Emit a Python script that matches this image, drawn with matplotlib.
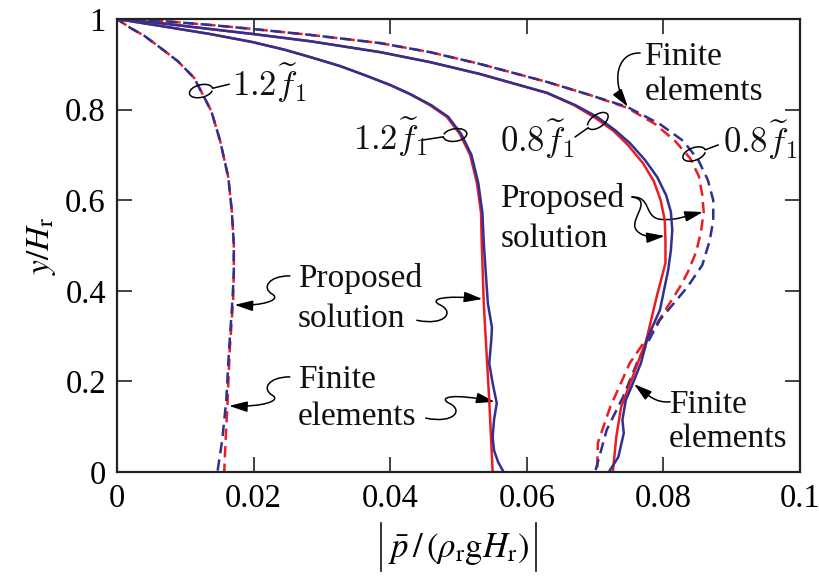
import numpy as np
import matplotlib.pyplot as plt
from matplotlib.path import Path
from matplotlib.patches import FancyArrowPatch
from matplotlib.lines import Line2D
from matplotlib.transforms import IdentityTransform

plt.rcParams['font.family'] = ['Liberation Serif', 'DejaVu Serif']
plt.rcParams['mathtext.fontset'] = 'stix'

RED = '#ed1c24'   # proposed solution
BLUE = '#2e3192'  # finite elements

# dashed set, 1.2 f1
y_d12 = [1.000, 0.980, 0.963, 0.936, 0.907, 0.870, 0.797, 0.731, 0.650, 0.577, 0.504,
         0.440, 0.379, 0.269, 0.159, 0.070, 0.000]
p_d12_prop = [0.0, 0.0020, 0.0040, 0.0064, 0.0089, 0.0113, 0.0138, 0.0151, 0.0163, 0.0168,
              0.0171, 0.0171, 0.0170, 0.0165, 0.0162, 0.0159, 0.0157]
p_d12_fe = [0.0, 0.0020, 0.0040, 0.0064, 0.0089, 0.0113, 0.0138, 0.0151, 0.0163, 0.0168,
            0.0171, 0.0171, 0.0169, 0.0164, 0.0160, 0.0154, 0.0147]

# solid set, 1.2 f1
y_s12_prop = [1.000, 0.985, 0.967, 0.949, 0.932, 0.916, 0.896, 0.876, 0.854, 0.834, 0.810,
              0.784, 0.746, 0.700, 0.638, 0.572, 0.506, 0.372, 0.291, 0.159, 0.000]
p_s12_prop = [0.0, 0.0063, 0.0136, 0.0199, 0.0246, 0.0283, 0.0327, 0.0363, 0.0400, 0.0429,
              0.0458, 0.0483, 0.0502, 0.0517, 0.0527, 0.0533, 0.0534, 0.0537, 0.0540, 0.0545,
              0.0550]
y_s12_fe = [1.000, 0.985, 0.967, 0.949, 0.932, 0.916, 0.896, 0.876, 0.854, 0.834, 0.810,
            0.784, 0.746, 0.700, 0.638, 0.572, 0.506, 0.438, 0.372, 0.319, 0.291, 0.240,
            0.196, 0.152, 0.115, 0.077, 0.048, 0.022, 0.000]
p_s12_fe = [0.0, 0.0063, 0.0136, 0.0199, 0.0246, 0.0283, 0.0327, 0.0363, 0.0401, 0.0430,
            0.0460, 0.0485, 0.0504, 0.0519, 0.0529, 0.0535, 0.0537, 0.0540, 0.0543, 0.0549,
            0.0548, 0.0545, 0.0550, 0.0556, 0.0552, 0.0550, 0.0552, 0.0558, 0.0566]

# solid set, 0.8 f1
y_s08_prop = [1.000, 0.991, 0.978, 0.967, 0.951, 0.927, 0.905, 0.879, 0.854, 0.837, 0.810,
              0.781, 0.753, 0.722, 0.682, 0.642, 0.600, 0.556, 0.512, 0.461, 0.386, 0.291,
              0.218, 0.143, 0.077, 0.000]
p_s08_prop = [0.0, 0.0063, 0.0136, 0.0199, 0.0283, 0.0385, 0.0458, 0.0530, 0.0589, 0.0629,
              0.0669, 0.0701, 0.0727, 0.0748, 0.0770, 0.0786, 0.0796, 0.0802, 0.0803, 0.0803,
              0.0790, 0.0775, 0.0757, 0.0738, 0.0731, 0.0726]
y_s08_fe = [1.000, 0.991, 0.978, 0.967, 0.951, 0.927, 0.905, 0.879, 0.854, 0.837, 0.810,
            0.784, 0.755, 0.726, 0.689, 0.651, 0.611, 0.574, 0.534, 0.490, 0.446, 0.358,
            0.297, 0.240, 0.187, 0.159, 0.115, 0.086, 0.033, 0.000]
p_s08_fe = [0.0, 0.0063, 0.0136, 0.0199, 0.0283, 0.0385, 0.0458, 0.0531, 0.0590, 0.0630,
            0.0671, 0.0703, 0.0729, 0.0751, 0.0773, 0.0791, 0.0804, 0.0811, 0.0813, 0.0811,
            0.0807, 0.0795, 0.0777, 0.0767, 0.0753, 0.0745, 0.0740, 0.0742, 0.0734, 0.0720]

# dashed set, 0.8 f1
y_d08_prop = [1.000, 0.996, 0.987, 0.978, 0.965, 0.947, 0.927, 0.901, 0.861, 0.832, 0.804,
              0.768, 0.731, 0.693, 0.653, 0.611, 0.574, 0.530, 0.486, 0.442, 0.408, 0.329,
              0.241, 0.143, 0.064, 0.000]
p_d08_prop = [0.0, 0.0063, 0.0136, 0.0199, 0.0283, 0.0385, 0.0458, 0.0531, 0.0630, 0.0693,
              0.0747, 0.0788, 0.0817, 0.0839, 0.0852, 0.0857, 0.0859, 0.0855, 0.0848, 0.0836,
              0.0824, 0.0791, 0.0751, 0.0722, 0.0704, 0.0703]
y_d08_fe = [1.000, 0.996, 0.987, 0.978, 0.965, 0.947, 0.927, 0.901, 0.861, 0.832, 0.806,
            0.768, 0.731, 0.689, 0.645, 0.600, 0.556, 0.512, 0.457, 0.408, 0.336, 0.247,
            0.166, 0.093, 0.000]
p_d08_fe = [0.0, 0.0063, 0.0136, 0.0199, 0.0283, 0.0385, 0.0458, 0.0531, 0.0630, 0.0693,
            0.0747, 0.0795, 0.0829, 0.0851, 0.0865, 0.0873, 0.0873, 0.0868, 0.0857, 0.0835,
            0.0795, 0.0763, 0.0741, 0.0717, 0.0700]

xticks = [0, 0.02, 0.04, 0.06, 0.08, 0.1]
xtick_labels = ['0', '0.02', '0.04', '0.06', '0.08', '0.1']
yticks = [0, 0.2, 0.4, 0.6, 0.8, 1]
ytick_labels = ['0', '0.2', '0.4', '0.6', '0.8', '1']

fig = plt.figure(figsize=(8.2, 5.86), dpi=100)
ax = fig.add_axes([0.1427, 0.1945, 0.8329, 0.7730])
ax.set_xlim(0, 0.1)
ax.set_ylim(0, 1)

LW = 1.8
dash_r = (0, (4.5, 2.5))
dash_b = (1.5, (4.5, 2.5))

ax.plot(p_d12_prop, y_d12, color=RED, lw=LW, ls=dash_r)
ax.plot(p_d12_fe, y_d12, color=BLUE, lw=LW, ls=dash_b)
ax.plot(p_d08_prop, y_d08_prop, color=RED, lw=LW, ls=dash_r)
ax.plot(p_d08_fe, y_d08_fe, color=BLUE, lw=LW, ls=dash_b)
ax.plot(p_s12_prop, y_s12_prop, color=RED, lw=LW)
ax.plot(p_s12_fe, y_s12_fe, color=BLUE, lw=LW)
ax.plot(p_s08_prop, y_s08_prop, color=RED, lw=LW)
ax.plot(p_s08_fe, y_s08_fe, color=BLUE, lw=LW)

ax.set_xticks(xticks, xtick_labels)
ax.set_yticks(yticks, ytick_labels)
ax.tick_params(direction='in', length=11, width=1.2, top=True, right=True,
               labelsize=23.5, pad=8, color='#222222')
for sp in ax.spines.values():
    sp.set_linewidth(1.6)
    sp.set_color('#222222')

ax.set_xlabel(r'$\bar{p}\,/\,(\rho_\mathrm{r}\mathrm{g}H_\mathrm{r})$', fontsize=25)
ax.set_ylabel(r'$y/H_\mathrm{r}$', fontsize=24)
ax.xaxis.set_label_coords(0.5, -0.13)
ax.yaxis.set_label_coords(-0.086, 0.5)

TXT = dict(fontsize=24, va='baseline', color='#111111')
ax.text(0.0772, 0.898, 'Finite', **TXT)
ax.text(0.0772, 0.821, 'elements', **TXT)
ax.text(0.0561, 0.585, 'Proposed', **TXT)
ax.text(0.0561, 0.497, 'solution', **TXT)
ax.text(0.0265, 0.408, 'Proposed', **TXT)
ax.text(0.0265, 0.320, 'solution', **TXT)
ax.text(0.0265, 0.185, 'Finite', **TXT)
ax.text(0.0265, 0.104, 'elements', **TXT)
ax.text(0.0808, 0.130, 'Finite', **TXT)
ax.text(0.0808, 0.055, 'elements', **TXT)

LBL = dict(fontsize=25, va='baseline', math_fontfamily='cm', color='#111111')
ax.text(0.0168, 0.830, r'$1.2\widetilde{f}_1$', **LBL)
ax.text(0.0346, 0.711, r'$1.2\widetilde{f}_1$', **LBL)
ax.text(0.0561, 0.706, r'$0.8\widetilde{f}_1$', **LBL)
ax.text(0.0887, 0.704, r'$0.8\widetilde{f}_1$', **LBL)


def lasso(start, centre, w=17, h=9):
    # leader line ending in a small loop around a curve
    tr = ax.transData
    s = tr.transform(start)
    c = tr.transform(centre)
    ang = np.arctan2(s[1] - c[1], s[0] - c[0])
    k = fig.dpi / 72
    t = np.linspace(0, 1.85 * np.pi, 80)
    ex = w / 2 * k * np.cos(t)
    ey = h / 2 * k * np.sin(t)
    rx = c[0] + ex * np.cos(ang) - ey * np.sin(ang)
    ry = c[1] + ex * np.sin(ang) + ey * np.cos(ang)
    pts = tr.inverted().transform(np.vstack([s, np.column_stack([rx, ry])]))
    ax.plot(pts[:, 0], pts[:, 1], color='k', lw=1.1)


lasso((0.0164, 0.856), (0.0123, 0.841))
lasso((0.0448, 0.733), (0.0495, 0.744))
lasso((0.0671, 0.740), (0.0704, 0.775))
lasso((0.0880, 0.722), (0.0845, 0.702))


def squiggle(start, segments):
    # chain of cubic Bezier pieces with a filled head at the end
    verts = [start]
    codes = [Path.MOVETO]
    for c1, c2, end in segments:
        verts += [c1, c2, end]
        codes += [Path.CURVE4] * 3
    arr = FancyArrowPatch(path=Path(verts, codes), arrowstyle='-|>,head_length=1.1,head_width=0.32',
                          mutation_scale=10, color='k', lw=1.1)
    ax.add_patch(arr)


squiggle((0.0766, 0.925), [((0.0729, 0.927), (0.0725, 0.855), (0.0748, 0.806))])
squiggle((0.0754, 0.607), [((0.0783, 0.609), (0.0771, 0.563), (0.0795, 0.558)),
                           ((0.0817, 0.554), (0.0839, 0.567), (0.0858, 0.574))])
squiggle((0.0754, 0.607), [((0.0788, 0.600), (0.0744, 0.552), (0.0763, 0.530)),
                           ((0.0773, 0.517), (0.0788, 0.519), (0.0802, 0.521))])
squiggle((0.0253, 0.433), [((0.0221, 0.433), (0.0212, 0.406), (0.0227, 0.393)),
                           ((0.0242, 0.380), (0.0212, 0.366), (0.0172, 0.369))])
squiggle((0.0253, 0.210), [((0.0221, 0.210), (0.0212, 0.183), (0.0227, 0.170)),
                           ((0.0242, 0.157), (0.0212, 0.143), (0.0164, 0.146))])
squiggle((0.0439, 0.335), [((0.0480, 0.322), (0.0495, 0.353), (0.0473, 0.369)),
                           ((0.0455, 0.382), (0.0480, 0.391), (0.0535, 0.382))])
squiggle((0.0452, 0.119), [((0.0494, 0.106), (0.0508, 0.137), (0.0486, 0.152)),
                           ((0.0469, 0.166), (0.0494, 0.174), (0.0553, 0.155))])
squiggle((0.0810, 0.155), [((0.0788, 0.152), (0.0777, 0.170), (0.0757, 0.194))])

# tall absolute-value bars around the x label
fig.canvas.draw()
bb = ax.xaxis.label.get_window_extent()
for xb in (bb.x0 - 7, bb.x1 + 7):
    fig.add_artist(Line2D([xb, xb], [bb.y0 - 4, bb.y1 + 8], color='#111111', lw=1.2,
                          transform=IdentityTransform()))

fig.savefig('out.png', dpi=100)
